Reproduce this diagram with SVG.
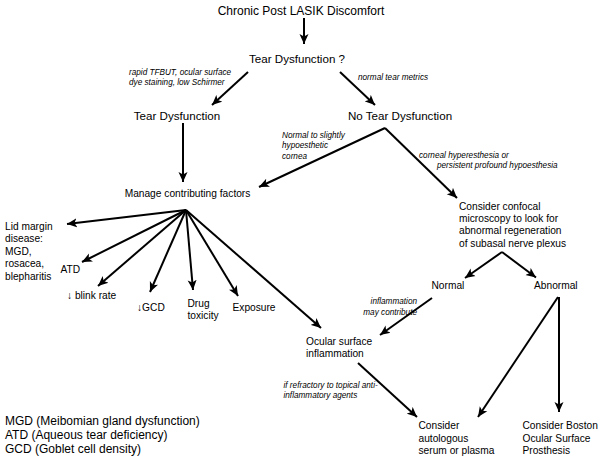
<svg xmlns="http://www.w3.org/2000/svg" width="602" height="461" viewBox="0 0 602 461">
<style>
text{font-family:"Liberation Sans",Arial,sans-serif;fill:#000}
.h{font-size:11.6px}
.t{font-size:12px}
.b{font-size:10.2px}
.i{font-size:8.2px;font-style:italic}
.lg{font-size:12px}
.c path{fill:none;stroke:#000;stroke-width:2;marker-end:url(#ah)}
</style>
<defs>
<marker id="ah" viewBox="0 0 10 10" refX="10" refY="5" markerWidth="10" markerHeight="10" markerUnits="userSpaceOnUse" orient="auto">
<path d="M0,0.5 L10,5 L0,9.5 L2.5,5 z" fill="#000"/>
</marker>
</defs>
<rect width="602" height="461" fill="#fff"/>
<g id="n-title"><text class="t" x="301" y="15" text-anchor="middle">Chronic Post LASIK Discomfort</text></g>
<g id="n-q"><text class="h" x="297" y="63" text-anchor="middle">Tear Dysfunction ?</text></g>
<g id="n-td"><text class="h" x="177" y="120" text-anchor="middle">Tear Dysfunction</text></g>
<g id="n-ntd"><text class="h" x="400" y="120" text-anchor="middle">No Tear Dysfunction</text></g>
<g id="n-manage"><text class="b" x="187.5" y="197" text-anchor="middle">Manage contributing factors</text></g>
<g id="n-confocal"><text class="b" x="459" y="210"><tspan x="459">Consider confocal</tspan><tspan x="459" dy="12.2">microscopy to look for</tspan><tspan x="459" dy="12.2">abnormal regeneration</tspan><tspan x="459" dy="12.2">of subasal nerve plexus</tspan></text></g>
<g id="n-lid"><text class="b" x="5" y="230"><tspan x="5">Lid margin</tspan><tspan x="5" dy="12.4">disease:</tspan><tspan x="5" dy="12.4">MGD,</tspan><tspan x="5" dy="12.4">rosacea,</tspan><tspan x="5" dy="12.4">blepharitis</tspan></text></g>
<g id="n-atd"><text class="b" x="60.5" y="272.5">ATD</text></g>
<g id="n-blink"><text class="b" x="67" y="298.5">↓ blink rate</text></g>
<g id="n-gcd"><text class="b" x="137" y="310.5">↓GCD</text></g>
<g id="n-drug"><text class="b" x="187.5" y="306.5"><tspan x="187.5">Drug</tspan><tspan x="187.5" dy="12.6">toxicity</tspan></text></g>
<g id="n-exposure"><text class="b" x="232.5" y="310.5">Exposure</text></g>
<g id="n-normal"><text class="b" x="431.5" y="288.5">Normal</text></g>
<g id="n-abnormal"><text class="b" x="534" y="288.5">Abnormal</text></g>
<g id="n-osi"><text class="b" x="306" y="345"><tspan x="306">Ocular surface</tspan><tspan x="306" dy="12.4">inflammation</tspan></text></g>
<g id="n-serum"><text class="b" x="418.5" y="429"><tspan x="418.5">Consider</tspan><tspan x="418.5" dy="12.5">autologous</tspan><tspan x="418.5" dy="12.5">serum or plasma</tspan></text></g>
<g id="n-boston"><text class="b" x="522.5" y="429"><tspan x="522.5">Consider Boston</tspan><tspan x="522.5" dy="12.5">Ocular Surface</tspan><tspan x="522.5" dy="12.5">Prosthesis</tspan></text></g>
<g id="legend"><text class="lg" x="5" y="424.5"><tspan x="5">MGD (Meibomian gland dysfunction)</tspan><tspan x="5" dy="14">ATD (Aqueous tear deficiency)</tspan><tspan x="5" dy="14">GCD (Goblet cell density)</tspan></text></g>
<g id="labels">
<text class="i" x="129" y="75.3"><tspan x="129">rapid TFBUT, ocular surface</tspan><tspan x="129" dy="10">dye staining, low Schirmer</tspan></text>
<text class="i" x="358" y="80">normal tear metrics</text>
<text class="i" x="282" y="138"><tspan x="282">Normal to slightly</tspan><tspan x="282" dy="10.3">hypoesthetic</tspan><tspan x="282" dy="10.3">cornea</tspan></text>
<text class="i" x="419" y="158">corneal hyperesthesia or</text>
<text class="i" x="437" y="168">persistent profound hypoesthesia</text>
<text class="i" x="417" y="303.7" text-anchor="end"><tspan x="417">inflammation</tspan><tspan x="417" dy="10.8">may contribute</tspan></text>
<text class="i" x="283.5" y="388"><tspan x="283.5">if refractory to topical anti-</tspan><tspan x="283.5" dy="9.6">inflammatory agents</tspan></text>
</g>
<g id="connectors" class="c">
<path d="M304,18 L304,44"/>
<path d="M248,72 L212,105"/>
<path d="M340,72 L375,105"/>
<path d="M183,123 L183,182"/>
<path d="M385,128 L259,187"/>
<path d="M385,128 L457,198"/>
<path d="M186,210 L67,224"/>
<path d="M186,210 L82,262"/>
<path d="M186,210 L98,286"/>
<path d="M186,210 L150,292"/>
<path d="M186,210 L193,290"/>
<path d="M186,210 L238,296"/>
<path d="M186,210 L321,328"/>
<path d="M502,252 L465,278"/>
<path d="M502,252 L536,277.5"/>
<path d="M432,298 L380,335"/>
<path d="M358,363 L417,417"/>
<path d="M558,297 L478,417"/>
<path d="M559,297 L559,412"/>
</g>
</svg>
